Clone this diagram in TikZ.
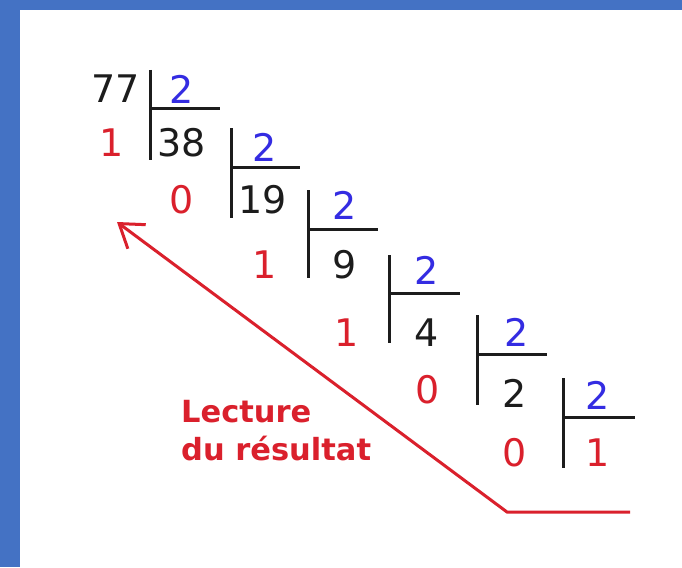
\documentclass[tikz,border=0pt]{standalone}
\usepackage{fontspec}
\setmainfont{DejaVu Sans}
\usetikzlibrary{arrows.meta}
\definecolor{frameblue}{RGB}{68,114,196}
\definecolor{numred}{RGB}{218,32,44}
\definecolor{numblue}{RGB}{52,44,226}
\definecolor{numblack}{RGB}{28,28,28}
\begin{document}
\begin{tikzpicture}[x=1pt,y=-1pt,
  num/.style={inner sep=0pt,font=\fontsize{38}{40}\selectfont},
  dvd/.style={num,text=numblack},
  dvs/.style={num,text=numblue},
  rem/.style={num,text=numred},
  bar/.style={draw=numblack,line width=3pt},
  lbl/.style={inner sep=0pt,anchor=base west,text=numred,font=\fontsize{30.5}{32}\selectfont\bfseries},
  readarrow/.style={draw=numred,line width=3pt,line join=miter,
    -{Straight Barb[length=22pt,width=30pt]}}]
\useasboundingbox (0,0) rectangle (682,567);
\fill[white] (0,0) rectangle (682,567);
\fill[frameblue] (0,0) rectangle (682,10);
\fill[frameblue] (0,0) rectangle (20,567);
% texts
\node[dvd] (d1) at (116,89) {77};
\node[dvs] (s1) at (182,89) {2};
\node[dvd] (q1) at (182,143) {38};
\node[rem] (r1) at (112,143) {1};
\node[dvs] (s2) at (265,147) {2};
\node[dvd] (q2) at (263,200) {19};
\node[rem] (r2) at (182,200) {0};
\node[dvs] (s3) at (345,205) {2};
\node[dvd] (q3) at (345,265) {9};
\node[rem] (r3) at (265,265) {1};
\node[dvs] (s4) at (427,270) {2};
\node[dvd] (q4) at (427,333) {4};
\node[rem] (r4) at (347,333) {1};
\node[dvs] (s5) at (517,332) {2};
\node[dvd] (q5) at (515,393) {2};
\node[rem] (r5) at (428,390) {0};
\node[dvs] (s6) at (598,395) {2};
\node[rem] (q6) at (598,453) {1};
\node[rem] (r6) at (515,453) {0};
% division brackets
\foreach \bx/\hy/\bt/\bb/\he in {150/109/70/160/220, 231/167/128/218/300, 308/229/190/278/378, 389/293/255/343/460, 477/354/315/405/547, 563/417/378/468/635}{
  \draw[bar] (\bx,\bt) -- (\bx,\bb);
  \draw[bar] (\bx,\hy) -- (\he,\hy);
}
% reading arrow
\coordinate (aend) at (630,512);
\coordinate (acorner) at (507,512);
\coordinate (atip) at (117,222);
\draw[readarrow] (aend) -- (acorner) -- (atip);
\node[lbl] (l1) at (181,422) {Lecture};
\node[lbl] (l2) at (181,460) {du résultat};
\end{tikzpicture}
\end{document}
